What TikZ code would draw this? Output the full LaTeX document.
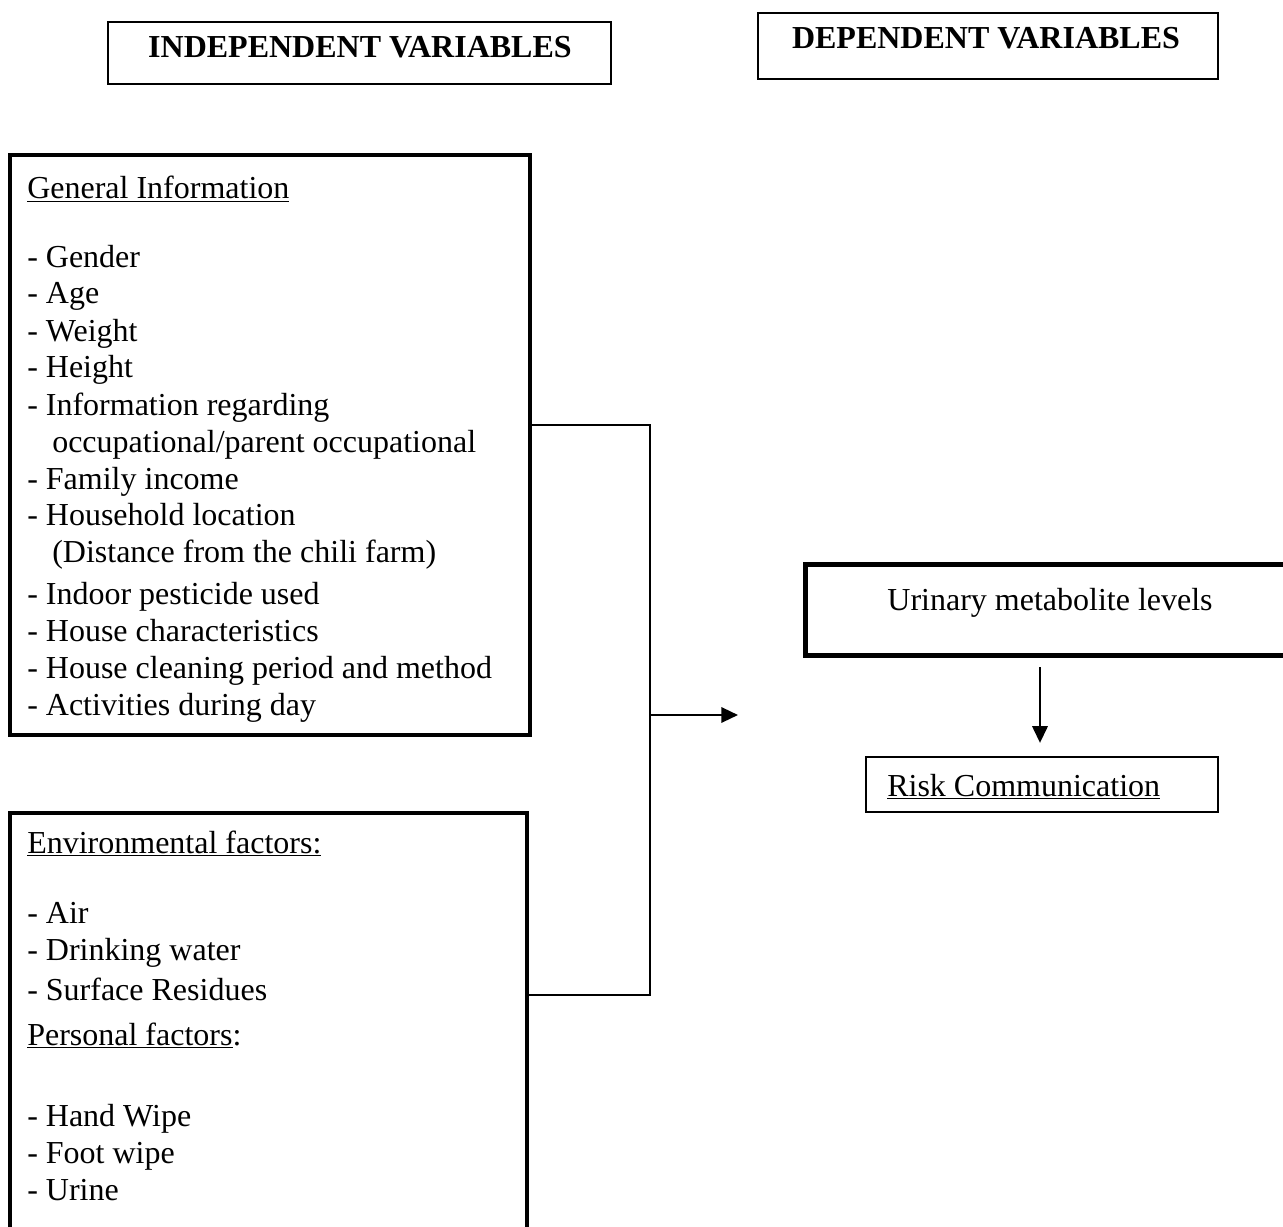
\documentclass[tikz,border=0pt]{standalone}
\usepackage{fontspec}
\setmainfont{Liberation Serif}
\usetikzlibrary{arrows.meta}
\begin{document}
\begin{tikzpicture}[x=0.75pt,y=-0.75pt,
  txt/.style={anchor=base west, inner sep=0pt, font=\fontsize{24}{28}\selectfont},
  ctxt/.style={anchor=base, inner sep=0pt, font=\fontsize{24}{28}\selectfont},
  hdr/.style={anchor=base, inner sep=0pt, font=\fontsize{24}{28}\selectfont\bfseries},
  hbox/.style={draw, line width=1.3pt, inner sep=0pt},
  thickbox/.style={draw, line width=2.8pt, inner sep=0pt},
  openbox/.style={draw=none, inner sep=0pt},
  thinbox/.style={draw, line width=1.2pt, inner sep=0pt},
  conn/.style={line width=1.7pt},
  arr/.style={line width=1.7pt, -{Triangle[length=12.5pt, width=11.5pt]}}]
\useasboundingbox (0,0) rectangle (1283,1227);

% headers
\node[hbox, minimum width=377.25pt, minimum height=46.5pt] (indbox) at (359.5,53) {};
\node[hdr] (indtxt) at (360,58) {INDEPENDENT VARIABLES};
\node[hbox, minimum width=345pt, minimum height=49.5pt] (depbox) at (988,46) {};
\node[hdr] (deptxt) at (986,49) {DEPENDENT VARIABLES};

% general information box
\node[thickbox, minimum width=390pt, minimum height=435pt] (gen) at (270,445) {};
\node[txt] (g0) at (27,199) {\underline{General Information}};
\node[txt] (g1) at (27,268) {- Gender};
\node[txt] (g2) at (27,304) {- Age};
\node[txt] (g3) at (27,341) {- Weight};
\node[txt] (g4) at (27,378) {- Height};
\node[txt] (g5) at (27,415) {- Information regarding};
\node[txt] (g6) at (52,452) {occupational/parent occupational};
\node[txt] (g7) at (27,489) {- Family income};
\node[txt] (g8) at (27,525) {- Household location};
\node[txt] (g9) at (52,562) {(Distance from the chili farm)};
\node[txt] (g10) at (27,604) {- Indoor pesticide used};
\node[txt] (g11) at (27,641) {- House characteristics};
\node[txt] (g12) at (27,678) {- House cleaning period and method};
\node[txt] (g13) at (27,715) {- Activities during day};

% environmental / personal box (cut off at the bottom)
\node[openbox, minimum width=387.75pt, minimum height=310.5pt] (env) at (268.5,1020) {};
\draw[line width=2.8pt] (env.south west) -- (env.north west) -- (env.north east) -- (env.south east);
\node[txt] (e0) at (27,853) {\underline{Environmental factors:}};
\node[txt] (e1) at (27,923) {- Air};
\node[txt] (e2) at (27,960) {- Drinking water};
\node[txt] (e3) at (27,1000) {- Surface Residues};
\node[txt] (e4) at (27,1045) {\underline{Personal factors}:};
\node[txt] (e5) at (27,1126) {- Hand Wipe};
\node[txt] (e6) at (27,1163) {- Foot wipe};
\node[txt] (e7) at (27,1200) {- Urine};

% connector
\coordinate (j1) at (650,425);
\coordinate (j2) at (650,995);
\coordinate (jm) at (650,715);
\coordinate (tip) at (738,715);
\draw[conn] (gen.east |- j1) -- (j1) -- (j2) -- (env.east |- j2);
\draw[arr] (jm) -- (tip);

% urinary box (cut off at the right)
\node[openbox, minimum width=357.75pt, minimum height=67.5pt] (um) at (1044.5,610) {};
\draw[line width=3.4pt] (um.north east) -- (um.north west) -- (um.south west) -- (um.south east);
\node[ctxt] (umtxt) at (1050,610) {Urinary metabolite levels};

% risk communication
\node[thinbox, minimum width=264pt, minimum height=41.25pt] (risk) at (1042,784.5) {};
\node[txt] (risktxt) at (887,796) {\underline{Risk Communication}};

\draw[arr, shorten <=9pt, shorten >=10pt] (um.south -| 1040,0) -- (risk.north -| 1040,0);
\end{tikzpicture}
\end{document}
